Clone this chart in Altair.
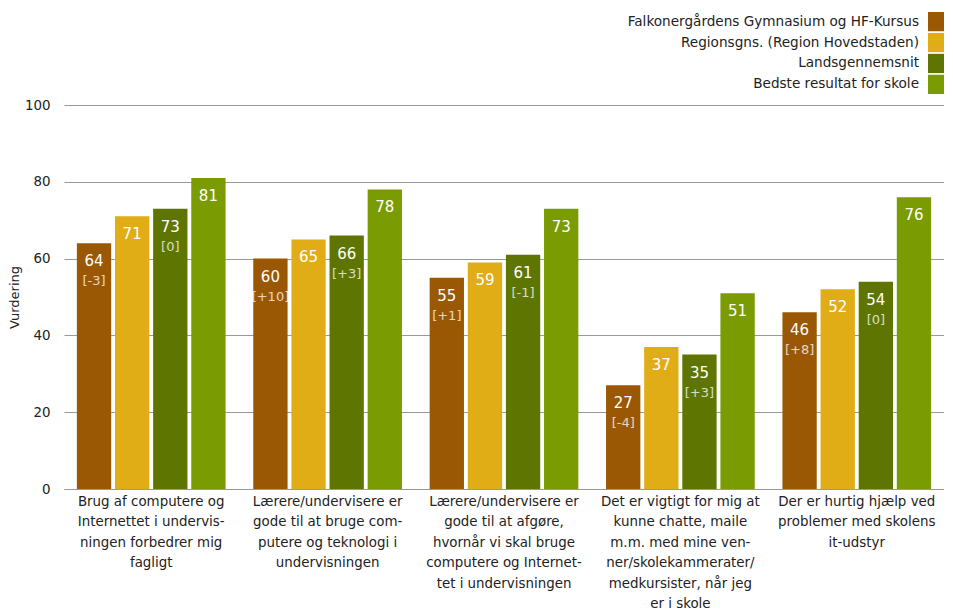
import altair as alt
import pandas as pd

categories = [
    "Brug af computere og|Internettet i undervis-|ningen forbedrer mig|fagligt",
    "Lærere/undervisere er|gode til at bruge com-|putere og teknologi i|undervisningen",
    "Lærere/undervisere er|gode til at afgøre,|hvornår vi skal bruge|computere og Internet-|tet i undervisningen",
    "Det er vigtigt for mig at|kunne chatte, maile|m.m. med mine ven-|ner/skolekammerater/|medkursister, når jeg|er i skole",
    "Der er hurtig hjælp ved|problemer med skolens|it-udstyr",
]
series = [
    "Falkonergårdens Gymnasium og HF-Kursus",
    "Regionsgns. (Region Hovedstaden)",
    "Landsgennemsnit",
    "Bedste resultat for skole",
]
colors = ["#9B5804", "#E0AD16", "#5E7601", "#7A9B01"]

school = [64, 60, 55, 27, 46]
region = [71, 65, 59, 37, 52]
national = [73, 66, 61, 35, 54]
best = [81, 78, 73, 51, 76]
school_delta = ["[-3]", "[+10]", "[+1]", "[-4]", "[+8]"]
national_delta = ["[0]", "[+3]", "[-1]", "[+3]", "[0]"]

values = [school, region, national, best]
deltas = [school_delta, [""] * 5, national_delta, [""] * 5]

rows = []
for i, c in enumerate(categories):
    for j, s in enumerate(series):
        rows.append({"cat": c, "series": s, "value": values[j][i], "delta": deltas[j][i]})
df = pd.DataFrame(rows)

W = 880
H = 384
FONT = "DejaVu Sans"
TXT = "#222222"

x_enc = alt.X(
    "cat:N",
    sort=categories,
    scale=alt.Scale(paddingInner=0.157, paddingOuter=0.073),
    axis=alt.Axis(
        title=None,
        labelAngle=0,
        labelExpr="split(datum.label, '|')",
        labelFontSize=13.4,
        labelLineHeight=20.5,
        labelPadding=5,
        labelColor=TXT,
        labelLimit=400,
        ticks=False,
        domainColor="#999999",
    ),
)
xoff = alt.XOffset("series:N", sort=series, scale=alt.Scale(paddingInner=0.1, paddingOuter=0))
y_enc = alt.Y(
    "value:Q",
    scale=alt.Scale(domain=[0, 100]),
    axis=alt.Axis(
        values=[0, 20, 40, 60, 80, 100],
        grid=True,
        gridColor="#999999",
        domain=False,
        ticks=False,
        labelPadding=14,
        labelFontSize=13.4,
        labelColor=TXT,
        title="Vurdering",
        titleFontSize=13,
        titleFontWeight="normal",
        titleColor=TXT,
        titlePadding=3,
    ),
)

base = alt.Chart(df).encode(x=x_enc, xOffset=xoff, y=y_enc)

bars = base.mark_bar().encode(
    color=alt.Color("series:N", scale=alt.Scale(domain=series, range=colors), legend=None)
)
val_text = base.mark_text(baseline="top", dy=11, fontSize=15, color="white").encode(text="value:Q")
delta_text = base.mark_text(baseline="top", dy=32, fontSize=13, color="white", opacity=0.75).encode(
    text="delta:N"
)

main = alt.layer(bars, val_text, delta_text).properties(width=W, height=H)

leg_df = pd.DataFrame({"series": series})
leg_base = alt.Chart(leg_df).encode(
    y=alt.Y("series:N", sort=series, axis=None, scale=alt.Scale(paddingInner=0.08, paddingOuter=0))
)
leg_rect = leg_base.mark_rect().encode(
    x=alt.value(W - 16),
    x2=alt.value(W),
    color=alt.Color("series:N", scale=alt.Scale(domain=series, range=colors), legend=None),
)
leg_text = leg_base.mark_text(align="right", baseline="middle", fontSize=13.6, color=TXT).encode(
    x=alt.value(W - 25), text="series:N"
)
legend = alt.layer(leg_rect, leg_text).properties(width=W, height=82)

chart = (
    alt.vconcat(legend, main, spacing=4)
    .properties(padding={"left": 0, "top": 4, "right": 0, "bottom": 0})
    .configure(font=FONT)
    .configure_view(stroke=None)
)

chart.save("out.html", embed_options={"renderer": "svg", "actions": False})
